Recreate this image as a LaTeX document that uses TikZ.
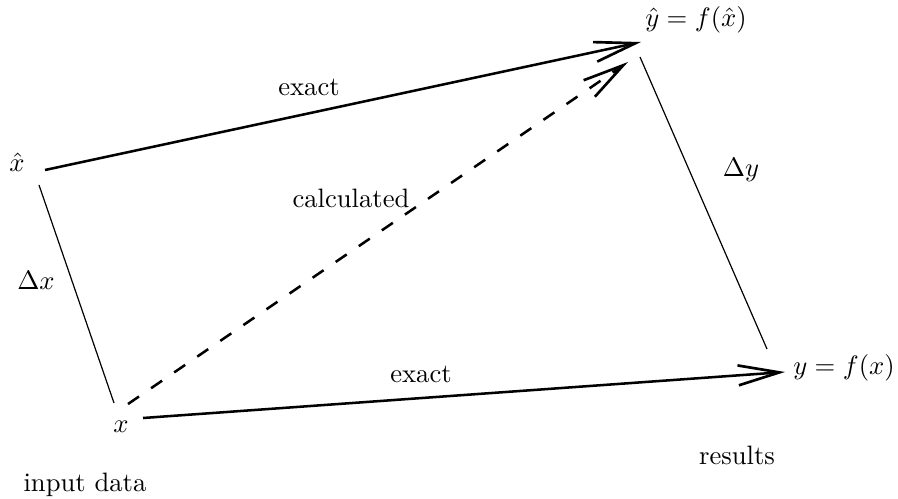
\documentclass[tikz,border=0pt]{standalone}
\usepackage{amsmath}
\usepackage{tikz}
\usetikzlibrary{arrows.meta}

\begin{document}
\begin{tikzpicture}[
    x=0.0132cm, y=-0.0132cm,
    label/.style={inner sep=0pt},
    arrow/.style={-{Straight Barb[length=15.5pt, width=7.5pt, line width=1pt]}, line width=0.95pt},
    calc arrow/.style={arrow, dash pattern=on 5pt off 5.5pt},
    side/.style={line width=0.45pt}
]
\useasboundingbox (0,0) rectangle (898,499);

% input and result points
\node[label] (xhat) at (17,162) {$\hat{x}$};
\node[label] (x) at (121,427) {$x$};
\node[label] (yhat) at (696,20) {$\hat{y} = f(\hat{x})$};
\node[label] (y) at (844,368) {$y = f(x)$};

% arrows
\draw[arrow] ([shift={(28,8)}]xhat.center) -- ([shift={(-55,22)}]yhat.center);
\draw[calc arrow] ([shift={(7,-23)}]x.center) -- ([shift={(-68,42)}]yhat.center);
\draw[arrow] ([shift={(22,-9)}]x.center) -- ([shift={(-59,4)}]y.center);

% error sides
\draw[side] ([shift={(22,23)}]xhat.center) -- ([shift={(-7,-24)}]x.center);
\draw[side] ([shift={(-56,37)}]yhat.center) -- ([shift={(-77,-19)}]y.center);

% labels
\node[label] (exacttop) at (309,87) {exact};
\node[label] (exactbot) at (421,374) {exact};
\node[label] (calc) at (351,198) {calculated};
\node[label] (dx) at (36,280) {$\Delta x$};
\node[label] (dy) at (741,170) {$\Delta y$};
\node[label] (res) at (737,455) {results};
\node[label] (inp) at (85,485) {input data};

\end{tikzpicture}
\end{document}
